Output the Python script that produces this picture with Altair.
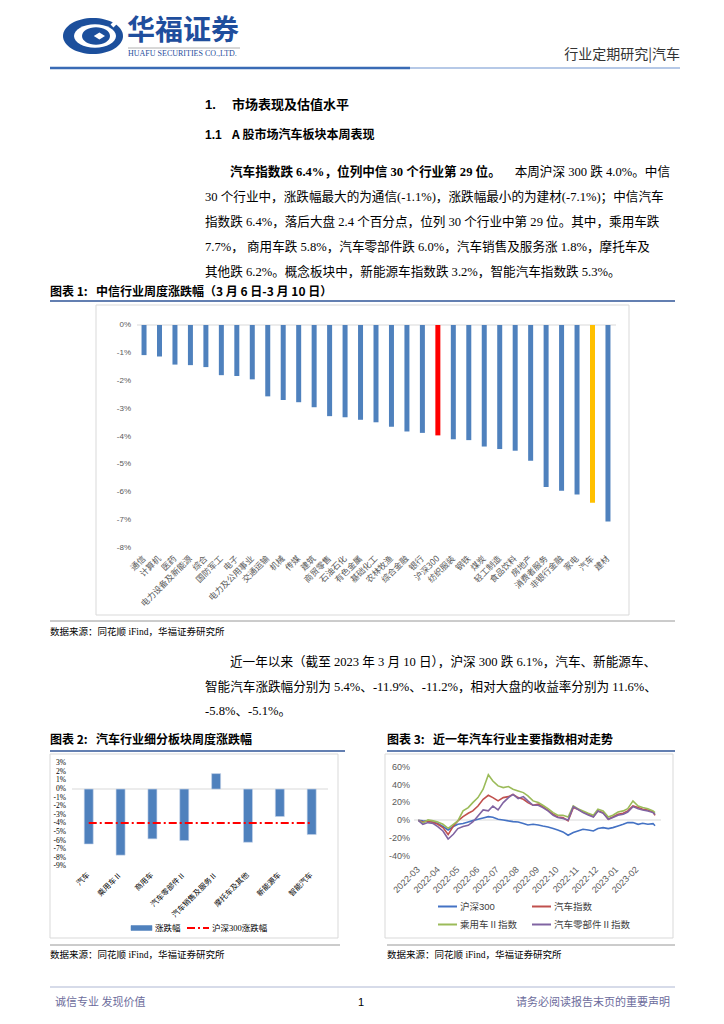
import altair as alt
import pandas as pd

# ---------------- data ----------------
ind_names = ['通信', '计算机', '医药', '电力设备及新能源', '综合', '国防军工', '电子', '电力及公用事业',
             '交通运输', '机械', '传媒', '建筑', '商贸零售', '石油石化', '有色金属', '基础化工', '农林牧渔',
             '综合金融', '银行', '沪深300', '纺织服装', '钢铁', '煤炭', '轻工制造', '食品饮料', '房地产',
             '消费者服务', '非银行金融', '家电', '汽车', '建材']
ind_values = [-1.08, -1.13, -1.42, -1.44, -1.51, -1.80, -1.83, -1.95, -2.56, -2.69, -2.77, -2.95, -3.27,
              -3.31, -3.40, -3.49, -3.65, -3.82, -3.87, -3.96, -4.10, -4.13, -4.36, -4.45, -4.51, -4.87,
              -5.81, -5.95, -6.08, -6.38, -7.05]
y1_ticks = [0, -1, -2, -3, -4, -5, -6, -7, -8]

sub_names = ['汽车', '乘用车Ⅱ', '商用车', '汽车零部件Ⅱ', '汽车销售及服务Ⅱ', '摩托车及其他', '新能源车', '智能汽车']
sub_values = [-6.4, -7.7, -5.8, -6.0, 1.8, -6.2, -3.2, -5.3]
hs300_week = -3.96
y2_ticks = [3, 2, 1, 0, -1, -2, -3, -4, -5, -6, -7, -8, -9]

dates = ['2022-03-10', '2022-03-17', '2022-03-25', '2022-04-02', '2022-04-09', '2022-04-17', '2022-04-25',
         '2022-05-03', '2022-05-10', '2022-05-18', '2022-05-26', '2022-06-02', '2022-06-10', '2022-06-18',
         '2022-06-26', '2022-07-03', '2022-07-11', '2022-07-19', '2022-07-27', '2022-08-03', '2022-08-11',
         '2022-08-19', '2022-08-26', '2022-09-03', '2022-09-11', '2022-09-18', '2022-09-26', '2022-10-04',
         '2022-10-11', '2022-10-19', '2022-10-27', '2022-11-04', '2022-11-11', '2022-11-19', '2022-11-27',
         '2022-12-05', '2022-12-12', '2022-12-20', '2022-12-28', '2023-01-04', '2023-01-12', '2023-01-20',
         '2023-01-27', '2023-02-04', '2023-02-12', '2023-02-19', '2023-02-27', '2023-03-07', '2023-03-10']
hs300 = [0, -0.7, -1.1, -1.9, -3.7, -7, -10.8, -7, -4.5, -3.7, -1.9, -0.4, 1.1, 2.6, 4.1, 3.4, 1.1, 0.4,
         -0.7, -1.5, -1.9, -3.7, -5.2, -4.5, -5.2, -6.4, -7.5, -9.3, -10.8, -13, -16.8, -13.8, -12, -10,
         -10.8, -12, -9.3, -8.2, -9.3, -8.2, -6.4, -4.5, -2.6, -2.6, -4.5, -3.4, -4.5, -3.7, -6.1]
auto_idx = [0, -1.9, -0.7, -2.6, -4.5, -8.2, -16, -6.4, -0.7, 4.1, 7.8, 10.5, 16, 23.5, 28, 25.4, 21.7,
            25.4, 26.5, 29, 25.4, 23.5, 19.8, 16.8, 18, 15.3, 11.2, 6.7, 3.7, 3, -0.7, 14.2, 12.3, 9.3,
            6.7, 4.1, 10.5, 8.6, 1.1, 3.7, 6.7, 7.8, 10.5, 16, 14.2, 12.3, 11.6, 9.3, 5.4]
pv_idx = [0, -3, 0.4, -0.7, -1.9, -4.5, -9, -4.5, -0.7, 10.5, 14.2, 19.8, 25.4, 34.8, 51, 44, 38.5, 36.6,
          37.8, 34.8, 32.9, 31, 27.3, 21.7, 19.8, 16.8, 13, 8.6, 5.6, 5.6, 3.7, 16, 13, 10.5, 7.8, 5.6,
          12.3, 10.5, 3.7, 5.6, 9.3, 10.5, 13, 21.7, 16, 14.2, 13, 10.5, 8.6]
parts_idx = [0, -4.5, -2.6, -3.7, -7, -12, -21, -15.7, -9.3, -7, -5.6, -1.9, 4.9, 11.6, 10.5, 16, 11.6,
             19.8, 25.4, 29, 24.3, 26.5, 21.7, 16.8, 16.8, 14.2, 10.5, 5.6, 3, 1.9, 0.4, 15.3, 12.3, 8.6,
             6, 3.7, 10.5, 7.8, 1.1, 3, 5.6, 6.7, 9.3, 15.3, 13, 11.6, 10.5, 8.6, 6.7]
series_names = ['沪深300', '汽车指数', '乘用车Ⅱ指数', '汽车零部件Ⅱ指数']
series_colors = ['#4472c4', '#c0504d', '#9bbb59', '#8064a2']
y3_ticks = [60, 40, 20, 0, -20, -40]
x3_months = ['2022-03', '2022-04', '2022-05', '2022-06', '2022-07', '2022-08', '2022-09', '2022-10',
             '2022-11', '2022-12', '2023-01', '2023-02']

# ---------------- helpers ----------------
W, H = 708, 1008
OFF = 8
BODY = "Liberation Serif, Noto Sans CJK SC"
SANS = "Liberation Sans, Noto Sans CJK SC"
CJK = "Noto Sans CJK SC"
FS = 12.6
layers = []


def px(v):
    return v - OFF


def text(s, x, y, size=FS, weight='normal', color='#000000', align='left', font=BODY, angle=0,
         baseline='middle'):
    kw = dict(align=align, baseline=baseline, fontSize=size, fontWeight=weight, color=color, font=font)
    if angle:
        kw['angle'] = angle
    layers.append(alt.Chart(pd.DataFrame({'t': [s]})).mark_text(**kw).encode(
        x=alt.value(px(x)), y=alt.value(px(y)), text='t:N'))


def hline(x1, x2, y, color='#d9d9d9', width=1, dash=None):
    kw = dict(color=color, strokeWidth=width)
    if dash:
        kw['strokeDash'] = dash
    layers.append(alt.Chart(pd.DataFrame({'a': [0]})).mark_rule(**kw).encode(
        x=alt.value(px(x1)), x2=alt.value(px(x2)), y=alt.value(px(y))))


def box(x1, y1, x2, y2, stroke='#d9d9d9', fill=None, width=1):
    kw = dict(stroke=stroke, strokeWidth=width)
    if fill:
        kw['fill'] = fill
    else:
        kw['filled'] = False
    layers.append(alt.Chart(pd.DataFrame({'a': [0]})).mark_rect(**kw).encode(
        x=alt.value(px(x1)), x2=alt.value(px(x2)), y=alt.value(px(y1)), y2=alt.value(px(y2))))


def symbol(path, x, y, width, color, filled=True, stroke_width=1):
    kw = dict(shape=path, size=width * width, opacity=1)
    if filled:
        kw.update(filled=True, color=color, strokeWidth=0)
    else:
        kw.update(filled=False, color=color, strokeWidth=stroke_width)
    layers.append(alt.Chart(pd.DataFrame({'a': [0]})).mark_point(**kw).encode(
        x=alt.value(px(x)), y=alt.value(px(y))))


# ---------------- header ----------------
ELL = 'M -1 0 A 1 0.6 0 1 1 1 0 A 1 0.6 0 1 1 -1 0 Z'
symbol(ELL, 93, 36, 60, '#1c4f9c')
symbol('M -1 0 A 1 0.56 0 1 1 1 0 A 1 0.56 0 1 1 -1 0 Z', 95, 36, 42, '#ffffff')
symbol('M -1 0 A 1 0.62 0 1 1 1 0 A 1 0.62 0 1 1 -1 0 Z', 96, 36, 28, '#1c4f9c')
symbol('M -0.6 0 L 0.2 -0.5 L 1 0 L 0.2 0.5 Z', 98, 36, 14, '#ffffff')
symbol('M 0 0 L 1 -1', 112, 26, 16, '#ffffff', filled=False, stroke_width=4)
text('华福证券', 127, 32, size=28, weight='bold', color='#1f4e9d', font=CJK)
hline(128, 240, 48, color='#b0b0b0', width=1)
text('HUAFU SECURITIES CO.,LTD.', 128, 54, size=8, color='#1f4e9d', font='Liberation Serif')
text('行业定期研究|汽车', 680, 55, size=14, color='#333333', font=CJK, align='right')
hline(50, 410, 68, color='#3a6bb5', width=2.5)
hline(410, 680, 68, color='#6f93cf', width=1.2)

# ---------------- section text ----------------
text('1.', 205, 105, size=13, weight='bold', font=SANS)
text('市场表现及估值水平', 232, 105, size=13, weight='bold', font=CJK)
text('1.1', 205, 135, size=12, weight='bold', font=SANS)
text('A 股市场汽车板块本周表现', 232, 135, size=12, weight='bold', font=CJK)

text('汽车指数跌 6.4%，位列中信 30 个行业第 29 位。', 230, 172, weight='bold')
text('本周沪深 300 跌 4.0%。中信', 670, 172, align='right')
text('30 个行业中，涨跌幅最大的为通信(-1.1%)，涨跌幅最小的为建材(-7.1%)；中信汽车', 205, 197)
text('指数跌 6.4%，落后大盘 2.4 个百分点，位列 30 个行业中第 29 位。其中，乘用车跌', 205, 222)
text('7.7%，  商用车跌 5.8%，汽车零部件跌 6.0%，汽车销售及服务涨 1.8%，摩托车及', 205, 247)
text('其他跌 6.2%。概念板块中，新能源车指数跌 3.2%，智能汽车指数跌 5.3%。', 205, 272)

# ---------------- figure 1 ----------------
text('图表 1:', 50, 292, size=12, weight='bold', font=CJK)
text('中信行业周度涨跌幅（3 月 6 日-3 月 10 日）', 96, 292, size=12, weight='bold', font=CJK)
hline(50, 675, 301, color='#2f5597', width=1.5)
box(96, 305, 629, 615)
hline(137, 616, 325, color='#d9d9d9', width=1)

df1 = pd.DataFrame({'cat': ind_names, 'val': ind_values})
x1s = alt.Scale(domain=ind_names, range=[px(136.3), px(615.7)], paddingInner=0, paddingOuter=0)
y1s = alt.Scale(domain=[-8, 0], range=[px(548), px(325)], nice=False)
layers.append(
    alt.Chart(df1).transform_calculate(
        grp="datum.cat === '沪深300' ? 'hs' : (datum.cat === '汽车' ? 'car' : 'other')"
    ).mark_bar(size=5).encode(
        x=alt.X('cat:N', sort=None, scale=x1s, axis=None),
        y=alt.Y('val:Q', scale=y1s, axis=None),
        color=alt.Color('grp:N', scale=alt.Scale(domain=['other', 'hs', 'car'],
                                                 range=['#4f81bd', '#ff0000', '#ffc000']), legend=None)
    ))
layers.append(
    alt.Chart(df1).mark_text(angle=315, align='right', baseline='middle', fontSize=8.5, color='#595959',
                             font=CJK).encode(
        x=alt.X('cat:N', sort=None, scale=x1s, axis=None),
        y=alt.value(px(557)),
        text='cat:N'))
dft1 = pd.DataFrame({'v': y1_ticks, 'lab': [f'{v}%' for v in y1_ticks]})
layers.append(
    alt.Chart(dft1).mark_text(align='right', baseline='middle', fontSize=8, color='#595959',
                              font=SANS).encode(
        y=alt.Y('v:Q', scale=y1s, axis=None), x=alt.value(px(131)), text='lab:N'))

hline(50, 675, 621, color='#7f7f7f', width=0.8)
text('数据来源：同花顺 iFind，华福证券研究所', 50, 632, size=9.5, font=BODY)

# ---------------- paragraph 2 ----------------
text('近一年以来（截至 2023 年 3 月 10 日），沪深 300 跌 6.1%，汽车、新能源车、', 230, 662)
text('智能汽车涨跌幅分别为 5.4%、-11.9%、-11.2%，相对大盘的收益率分别为 11.6%、', 205, 687)
text('-5.8%、-5.1%。', 205, 711)

# ---------------- figure 2 ----------------
text('图表 2:', 50, 740, size=12, weight='bold', font=CJK)
text('汽车行业细分板块周度涨跌幅', 96, 740, size=12, weight='bold', font=CJK)
hline(50, 345, 751, color='#2f5597', width=1.5)
box(50, 754, 338, 938)
hline(72, 328, 789, color='#d9d9d9', width=1)

df2 = pd.DataFrame({'cat': sub_names, 'val': sub_values, 'hs': [hs300_week] * len(sub_names)})
x2s = alt.Scale(domain=sub_names, range=[px(72.8), px(327.6)], paddingInner=0, paddingOuter=0)
y2s = alt.Scale(domain=[-9, 3], range=[px(866.3), px(763.3)], nice=False)
layers.append(
    alt.Chart(df2).mark_bar(size=9, color='#4f81bd', stroke='#c6d4ea', strokeWidth=0.6).encode(
        x=alt.X('cat:N', sort=None, scale=x2s, axis=None),
        y=alt.Y('val:Q', scale=y2s, axis=None)))
layers.append(
    alt.Chart(df2).mark_line(color='#ff0000', strokeWidth=2, strokeDash=[8, 3, 2, 3]).encode(
        x=alt.X('cat:N', sort=None, scale=x2s, axis=None),
        y=alt.Y('hs:Q', scale=y2s, axis=None)))
layers.append(
    alt.Chart(df2).mark_text(angle=315, align='right', baseline='middle', fontSize=7.5, color='#000000',
                             font=BODY).encode(
        x=alt.X('cat:N', sort=None, scale=x2s, axis=None),
        y=alt.value(px(874)),
        text='cat:N'))
dft2 = pd.DataFrame({'v': y2_ticks, 'lab': [f'{v}%' for v in y2_ticks]})
layers.append(
    alt.Chart(dft2).mark_text(align='right', baseline='middle', fontSize=7.5, color='#000000',
                              font=BODY).encode(
        y=alt.Y('v:Q', scale=y2s, axis=None), x=alt.value(px(66)), text='lab:N'))
# legend
box(131, 925.5, 152, 930.5, stroke='#4f81bd', fill='#4f81bd', width=0.5)
text('涨跌幅', 155, 928, size=8.5, font=BODY)
hline(187, 209, 928, color='#ff0000', width=2, dash=[8, 3, 2, 3])
text('沪深300涨跌幅', 212, 928, size=8.5, font=BODY)

# ---------------- figure 3 ----------------
text('图表 3:', 387, 740, size=12, weight='bold', font=CJK)
text('近一年汽车行业主要指数相对走势', 433, 740, size=12, weight='bold', font=CJK)
hline(387, 675, 751, color='#2f5597', width=1.5)
box(385, 754, 673, 938)
hline(414, 661, 820, color='#d9d9d9', width=1)

x3s = alt.Scale(domain=['2022-03-10', '2023-03-10'], range=[px(418.3), px(655)])
y3s = alt.Scale(domain=[-40, 60], range=[px(856), px(766.7)], nice=False)
for name, vals, col in zip(series_names, [hs300, auto_idx, pv_idx, parts_idx], series_colors):
    dfs = pd.DataFrame({'d': dates, 'v': vals})
    layers.append(
        alt.Chart(dfs).mark_line(color=col, strokeWidth=1.6).encode(
            x=alt.X('d:T', scale=x3s, axis=None),
            y=alt.Y('v:Q', scale=y3s, axis=None)))
dft3 = pd.DataFrame({'v': y3_ticks, 'lab': [f'{v}%' for v in y3_ticks]})
layers.append(
    alt.Chart(dft3).mark_text(align='right', baseline='middle', fontSize=9, color='#595959',
                              font=SANS).encode(
        y=alt.Y('v:Q', scale=y3s, axis=None), x=alt.value(px(410)), text='lab:N'))
dfx3 = pd.DataFrame({'d': [m + '-10' for m in x3_months], 'lab': x3_months})
layers.append(
    alt.Chart(dfx3).mark_text(angle=315, align='right', baseline='middle', fontSize=9, color='#595959',
                              font=SANS).encode(
        x=alt.X('d:T', scale=x3s, axis=None), y=alt.value(px(868)), text='lab:N'))
# legend
leg_pos = [(438, 906.5), (532, 906.5), (438, 924.5), (532, 924.5)]
for name, col, (lx, ly) in zip(series_names, series_colors, leg_pos):
    hline(lx, lx + 19, ly, color=col, width=2)
    text(name, lx + 22, ly, size=9.5, color='#404040', font=SANS)

hline(50, 340, 945, color='#7f7f7f', width=0.8)
hline(387, 675, 945, color='#7f7f7f', width=0.8)
text('数据来源：同花顺 iFind，华福证券研究所', 50, 955, size=9.5, font=BODY)
text('数据来源：同花顺 iFind，华福证券研究所', 387, 955, size=9.5, font=BODY)

# ---------------- footer ----------------
hline(50, 675, 987, color='#9aa4c8', width=0.8)
text('诚信专业  发现价值', 55, 1003, size=11, color='#6c6c9c', font=CJK)
text('1', 358, 1003, size=11, color='#000000', font=SANS)
text('请务必阅读报告末页的重要声明', 670, 1003, size=11, color='#6c6c9c', font=CJK, align='right')

chart = alt.layer(*layers).resolve_scale(
    x='independent', y='independent', color='independent'
).properties(
    width=W, height=H, padding=0,
    autosize=alt.AutoSizeParams(type='fit', contains='padding')
).configure_view(stroke=None)

chart.save('out.html', embed_options={'renderer': 'svg', 'actions': False})
